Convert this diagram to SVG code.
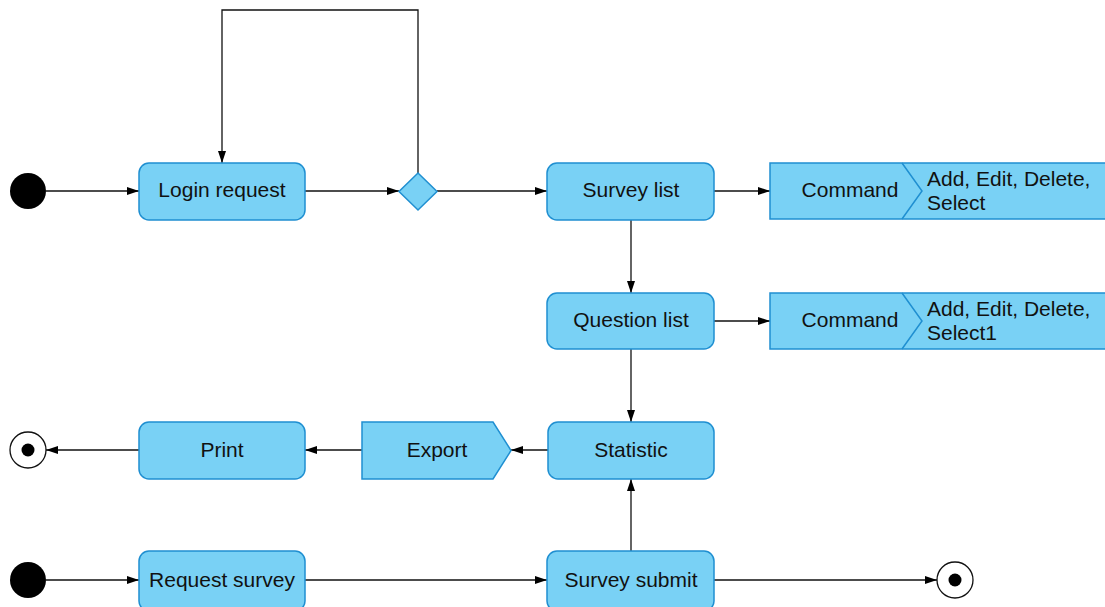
<svg xmlns="http://www.w3.org/2000/svg" width="1105" height="607" viewBox="0 0 1105 607">
  <style>
    .node { fill: #79d1f5; stroke: #1f8fd1; stroke-width: 1.5; }
    .lbl { font-family: "Liberation Sans", Arial, sans-serif; font-size: 21px; fill: #111; }
    .mid { text-anchor: middle; }
    .edge { fill: none; stroke: #111; stroke-width: 1.3; }
    .start { fill: #000; }
    .endo { fill: #fff; stroke: #111; stroke-width: 1.3; }
  </style>
  <defs>
    <marker id="arr" viewBox="0 0 12 8" refX="12" refY="4" markerWidth="12" markerHeight="8" markerUnits="userSpaceOnUse" orient="auto">
      <path d="M0,0 L12,4 L0,8 Z" fill="#000"/>
    </marker>
  </defs>
  <rect width="1105" height="607" fill="#fff"/>

  <g id="connectors">
    <line class="edge" x1="46" y1="191" x2="139" y2="191" marker-end="url(#arr)"/>
    <line class="edge" x1="305" y1="191" x2="399" y2="191" marker-end="url(#arr)"/>
    <line class="edge" x1="437" y1="191" x2="547" y2="191" marker-end="url(#arr)"/>
    <polyline class="edge" points="418,173 418,10 222,10 222,163" marker-end="url(#arr)"/>
    <line class="edge" x1="714" y1="191" x2="770" y2="191" marker-end="url(#arr)"/>
    <line class="edge" x1="631" y1="220" x2="631" y2="293" marker-end="url(#arr)"/>
    <line class="edge" x1="714" y1="321" x2="770" y2="321" marker-end="url(#arr)"/>
    <line class="edge" x1="631" y1="349" x2="631" y2="422" marker-end="url(#arr)"/>
    <line class="edge" x1="548" y1="450" x2="511" y2="450" marker-end="url(#arr)"/>
    <line class="edge" x1="362" y1="450" x2="305" y2="450" marker-end="url(#arr)"/>
    <line class="edge" x1="139" y1="450" x2="46" y2="450" marker-end="url(#arr)"/>
    <line class="edge" x1="46" y1="580" x2="139" y2="580" marker-end="url(#arr)"/>
    <line class="edge" x1="305" y1="580" x2="547" y2="580" marker-end="url(#arr)"/>
    <line class="edge" x1="631" y1="551" x2="631" y2="479" marker-end="url(#arr)"/>
    <line class="edge" x1="714" y1="580" x2="937" y2="580" marker-end="url(#arr)"/>
  </g>

  <g id="start1"><circle class="start" cx="28" cy="191" r="18"/></g>
  <g id="start2"><circle class="start" cx="28" cy="580" r="18"/></g>
  <g id="end1">
    <circle class="endo" cx="28" cy="450" r="18"/>
    <circle class="start" cx="28" cy="450" r="6.5"/>
  </g>
  <g id="end2">
    <circle class="endo" cx="955" cy="580" r="18"/>
    <circle class="start" cx="955" cy="580" r="6.5"/>
  </g>

  <g id="login-request">
    <rect class="node" x="139" y="163" width="166" height="57" rx="10"/>
    <text class="lbl mid" x="222" y="197">Login request</text>
  </g>
  <g id="decision">
    <polygon class="node" points="418,173 437,191.5 418,210 399,191.5"/>
  </g>
  <g id="survey-list">
    <rect class="node" x="547" y="163" width="167" height="57" rx="10"/>
    <text class="lbl mid" x="631" y="197">Survey list</text>
  </g>
  <g id="command1">
    <rect class="node" x="770" y="163" width="345" height="56"/>
    <polyline points="902,163 922,191 902,219" fill="none" stroke="#1f8fd1" stroke-width="1.5"/>
    <text class="lbl mid" x="850" y="197">Command</text>
    <text class="lbl" x="927" y="186">Add, Edit, Delete,</text>
    <text class="lbl" x="927" y="210">Select</text>
  </g>
  <g id="question-list">
    <rect class="node" x="547" y="293" width="167" height="56" rx="10"/>
    <text class="lbl mid" x="631" y="327">Question list</text>
  </g>
  <g id="command2">
    <rect class="node" x="770" y="293" width="345" height="56"/>
    <polyline points="902,293 922,321 902,349" fill="none" stroke="#1f8fd1" stroke-width="1.5"/>
    <text class="lbl mid" x="850" y="327">Command</text>
    <text class="lbl" x="927" y="316">Add, Edit, Delete,</text>
    <text class="lbl" x="927" y="340">Select1</text>
  </g>
  <g id="statistic">
    <rect class="node" x="548" y="422" width="166" height="57" rx="10"/>
    <text class="lbl mid" x="631" y="457">Statistic</text>
  </g>
  <g id="export">
    <polygon class="node" points="362,422 493,422 511,450.5 493,479 362,479"/>
    <text class="lbl mid" x="437" y="457">Export</text>
  </g>
  <g id="print">
    <rect class="node" x="139" y="422" width="166" height="57" rx="10"/>
    <text class="lbl mid" x="222" y="457">Print</text>
  </g>
  <g id="request-survey">
    <rect class="node" x="139" y="551" width="166" height="60" rx="10"/>
    <text class="lbl mid" x="222" y="587">Request survey</text>
  </g>
  <g id="survey-submit">
    <rect class="node" x="547" y="551" width="167" height="60" rx="10"/>
    <text class="lbl mid" x="631" y="587">Survey submit</text>
  </g>
</svg>
